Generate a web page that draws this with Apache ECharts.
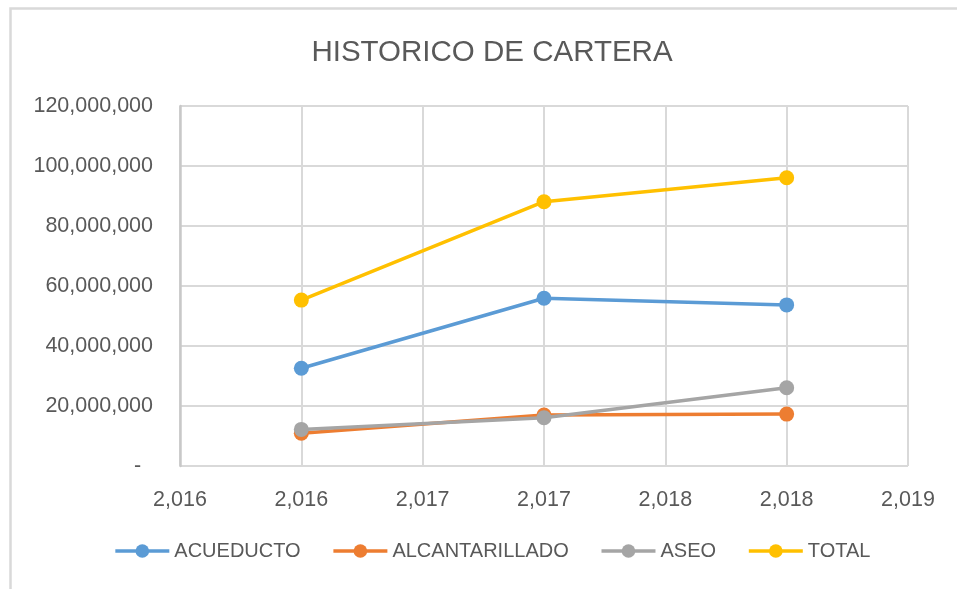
<!DOCTYPE html>
<html>
<head>
<meta charset="utf-8">
<script src="https://cdn.jsdelivr.net/npm/echarts@6/dist/echarts.min.js"></script>
<style>
  html, body { margin: 0; padding: 0; background: #fff; overflow: hidden; }
  #chart { width: 984px; height: 589px; }
</style>
</head>
<body>
<div id="chart"></div>
<script>
// años (eje x de dispersión) y valores
const years = [2016, 2017, 2018]
const acueducto = [32600000, 55900000, 53700000]
const alcantarillado = [10900000, 17000000, 17300000]
const aseo = [12200000, 16100000, 26100000]
const total = [55300000, 88100000, 96100000]

const seriesNames = ["ACUEDUCTO", "ALCANTARILLADO", "ASEO", "TOTAL"]
const seriesValues = [acueducto, alcantarillado, aseo, total]
const colors = ["#5B9BD5", "#ED7D31", "#A5A5A5", "#FFC000"]

const gridColor = "#d9d9d9"
const textColor = "#595959"

function fmtNumber(v) {
  return Math.round(v).toLocaleString("en-US")
}

const chart = echarts.init(document.getElementById("chart"))

const option = {
  animation: false,
  title: {
    text: "HISTORICO DE CARTERA",
    left: "center",
    top: 33,
    textStyle: {
      fontFamily: "Liberation Sans",
      fontSize: 29.5,
      fontWeight: "normal",
      color: textColor
    }
  },
  graphic: [
    {
      type: "rect",
      left: 8,
      top: 6,
      shape: { width: 1000, height: 620 },
      style: { fill: "none", stroke: gridColor, lineWidth: 2.5 },
      silent: true
    }
  ],
  legend: {
    data: seriesNames,
    bottom: 23,
    left: "center",
    itemWidth: 54,
    itemHeight: 17,
    itemGap: 31,
    lineStyle: { width: 3.5 },
    textStyle: {
      fontFamily: "Liberation Sans",
      fontSize: 20,
      color: textColor
    }
  },
  grid: {
    left: 180,
    right: 76,
    top: 106,
    bottom: 123,
    containLabel: false
  },
  xAxis: {
    type: "value",
    min: 2015.5,
    max: 2018.5,
    interval: 0.5,
    axisLine: { show: false },
    axisTick: { show: false },
    splitLine: { show: true, lineStyle: { color: gridColor, width: 2 } },
    axisLabel: {
      margin: 23,
      fontFamily: "Liberation Sans",
      fontSize: 21.5,
      color: textColor,
      formatter: (v) => fmtNumber(v)
    }
  },
  yAxis: {
    type: "value",
    min: 0,
    max: 120000000,
    interval: 20000000,
    axisLine: { show: true, lineStyle: { color: "#c8c8c8", width: 2.5 } },
    axisTick: { show: false },
    splitLine: { show: true, lineStyle: { color: gridColor, width: 2 } },
    axisLabel: {
      margin: 27,
      fontFamily: "Liberation Sans",
      fontSize: 21.5,
      color: textColor,
      formatter: (v) => (v === 0 ? "-  " : fmtNumber(v))
    }
  },
  series: seriesNames.map((name, i) => ({
    name: name,
    type: "line",
    data: years.map((y, j) => [y, seriesValues[i][j]]),
    symbol: "circle",
    symbolSize: 15,
    lineStyle: { color: colors[i], width: 3.5 },
    itemStyle: { color: colors[i] },
    z: 2 + i
  }))
}

chart.setOption(option)
</script>
</body>
</html>
